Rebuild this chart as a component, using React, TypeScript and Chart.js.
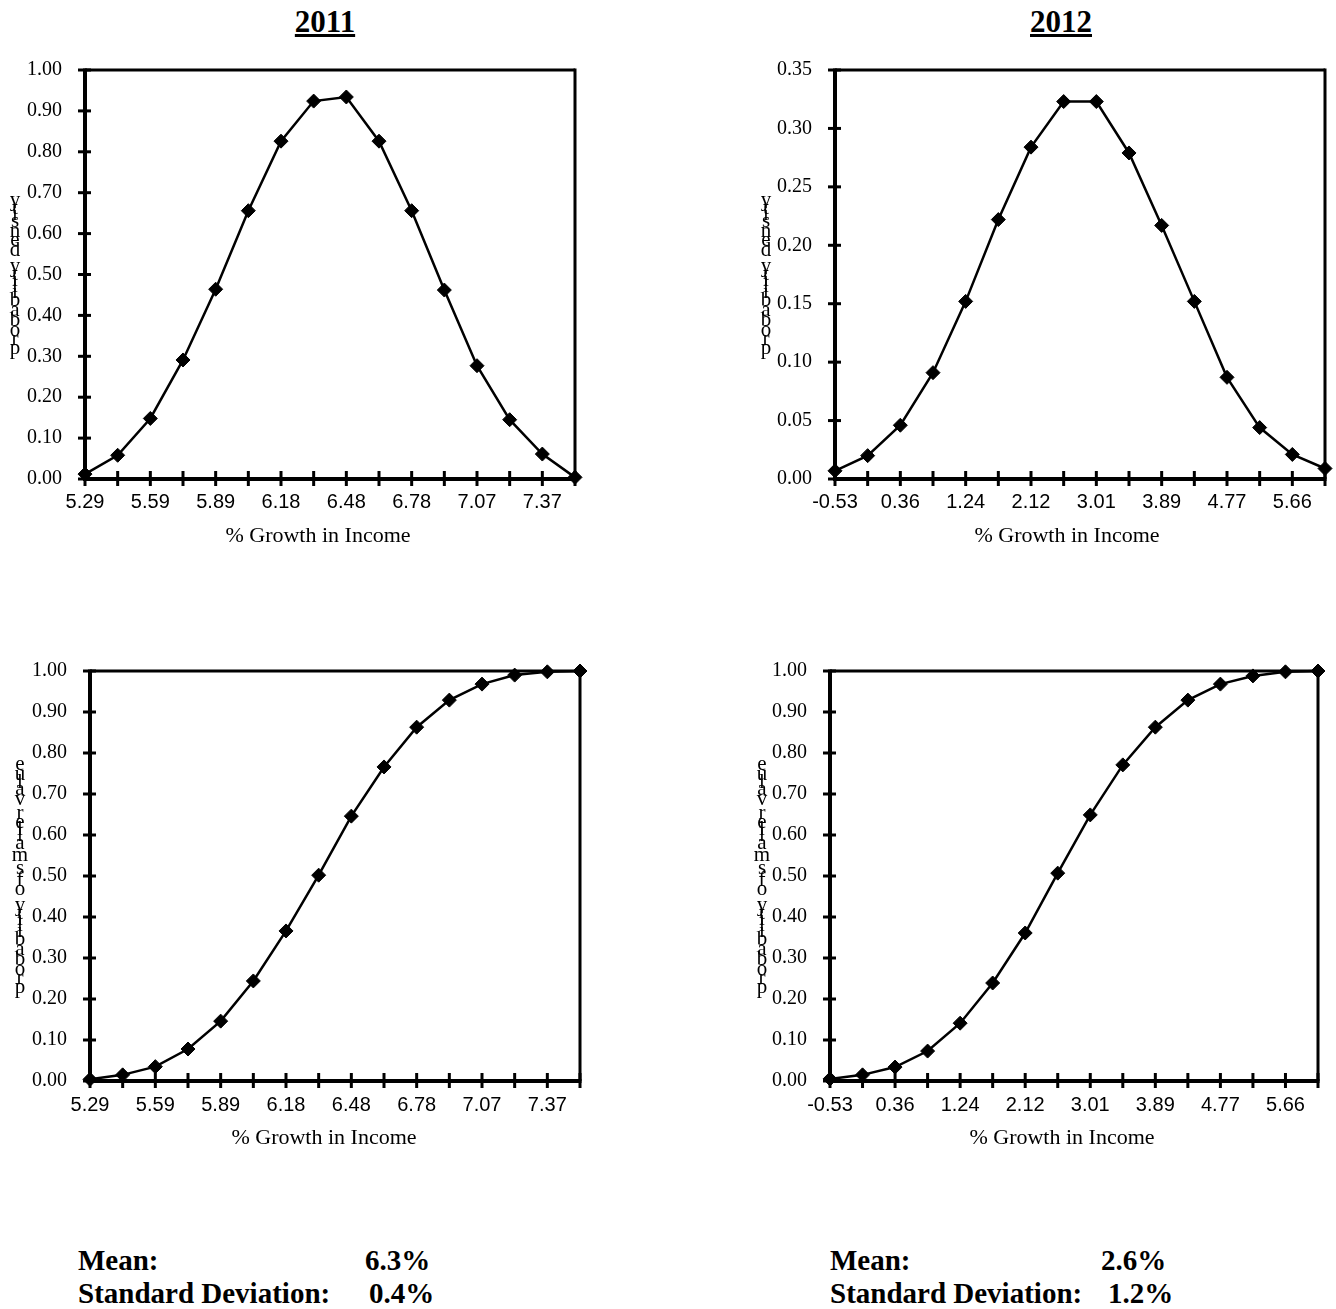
import React, { useEffect, useRef } from 'react';
import { Chart, registerables } from 'chart.js';

Chart.register(...registerables);

// ---- data ----
const growth2011 = ['5.29', '5.44', '5.59', '5.74', '5.89', '6.03', '6.18', '6.33', '6.48', '6.63', '6.78', '6.92', '7.07', '7.22', '7.37', '7.52'];
const growth2012 = ['-0.53', '-0.09', '0.36', '0.80', '1.24', '1.68', '2.12', '2.57', '3.01', '3.45', '3.89', '4.33', '4.77', '5.22', '5.66', '6.10'];

const density2011 = [0.012, 0.058, 0.148, 0.291, 0.464, 0.656, 0.826, 0.924, 0.934, 0.826, 0.656, 0.462, 0.277, 0.145, 0.061, 0.004];
const density2012 = [0.007, 0.020, 0.046, 0.091, 0.152, 0.222, 0.284, 0.323, 0.323, 0.279, 0.217, 0.152, 0.087, 0.044, 0.021, 0.009];
const cumulative2011 = [0.004, 0.015, 0.035, 0.078, 0.146, 0.244, 0.366, 0.502, 0.646, 0.766, 0.863, 0.929, 0.968, 0.990, 0.998, 1.0];
const cumulative2012 = [0.005, 0.015, 0.034, 0.073, 0.141, 0.239, 0.361, 0.507, 0.649, 0.771, 0.863, 0.929, 0.968, 0.988, 0.998, 1.0];

const yearTitles = ['2011', '2012'];
const meanValues = ['6.3%', '2.6%'];
const sdValues = ['0.4%', '1.2%'];
const densityTitle = 'probability density';
const cumulativeTitle = 'probability of smaller value';
const xTitle = '% Growth in Income';

type Box = { left: number; top: number; width: number; height: number };
type Area = { l: number; t: number; r: number; b: number };

interface PanelProps {
  box: Box;
  plot: Area;
  labels: string[];
  values: number[];
  yMax: number;
  yStep: number;
  yTitle: string;
  yTitleX: number; // page coordinate
  xTitleX: number; // page coordinate (center)
  xTitleY: number; // page coordinate (center)
  xLabelY: number; // page coordinate (center)
}

function Panel(p: PanelProps) {
  const ref = useRef<HTMLCanvasElement>(null);
  useEffect(() => {
    if (!ref.current) return;
    const { box, plot } = p;
    const tickLH = 20 * 1.2;
    const framePlugin = {
      id: 'frame',
      beforeDatasetsDraw(chart: any) {
        const { ctx, chartArea: a, scales } = chart;
        ctx.save();
        ctx.strokeStyle = '#000';
        ctx.lineCap = 'butt';
        const line = (x1: number, y1: number, x2: number, y2: number) => {
          ctx.beginPath();
          ctx.moveTo(x1, y1);
          ctx.lineTo(x2, y2);
          ctx.stroke();
        };
        ctx.lineWidth = 3;
        const xs = scales.x;
        for (let i = 0; i < xs.ticks.length; i++) {
          const px = xs.getPixelForTick(i);
          line(px, a.bottom - 8, px, a.bottom + 7);
        }
        const ys = scales.y;
        for (let i = 0; i < ys.ticks.length; i++) {
          const py = ys.getPixelForTick(i);
          line(a.left - 7, py, a.left + 6, py);
        }
        ctx.lineWidth = 3;
        line(a.left, a.top, a.right, a.top);
        line(a.right, a.top - 1.5, a.right, a.bottom);
        ctx.lineWidth = 4;
        line(a.left, a.top - 1.5, a.left, a.bottom + 2);
        line(a.left - 2, a.bottom, a.right + 1.5, a.bottom);

        ctx.fillStyle = '#000';
        // x-axis title
        ctx.font = '22px "Liberation Serif"';
        ctx.textAlign = 'center';
        ctx.textBaseline = 'middle';
        ctx.fillText(xTitle, p.xTitleX - box.left, p.xTitleY - box.top);

        // stacked (upright letters) y-axis title
        ctx.font = '21px "Liberation Serif"';
        const total = ctx.measureText(p.yTitle).width;
        let y = (a.top + a.bottom) / 2 + total / 2;
        const cx = p.yTitleX - box.left;
        for (const ch of p.yTitle) {
          const w = ctx.measureText(ch).width;
          if (ch !== ' ') ctx.fillText(ch, cx, y - w / 2);
          y -= w;
        }
        ctx.restore();
      },
    };

    const chart = new Chart(ref.current, {
      type: 'line',
      data: {
        labels: p.labels,
        datasets: [
          {
            data: p.values,
            borderColor: '#000',
            borderWidth: 2.5,
            pointStyle: 'rectRot',
            pointRadius: 7,
            pointBackgroundColor: '#000',
            pointBorderColor: '#000',
            pointBorderWidth: 1,
            tension: 0,
            clip: false as any,
          },
        ],
      },
      options: {
        animation: false,
        responsive: false,
        events: [],
        layout: {
          autoPadding: false,
          padding: { top: plot.t - box.top, right: box.left + box.width - plot.r, left: 0, bottom: 0 },
        },
        plugins: { legend: { display: false }, tooltip: { enabled: false } },
        scales: {
          x: {
            type: 'category',
            offset: false,
            grid: { display: false, drawTicks: false },
            border: { display: false },
            ticks: {
              autoSkip: false,
              maxRotation: 0,
              minRotation: 0,
              padding: p.xLabelY - plot.b - tickLH / 2,
              color: '#000',
              font: { family: '"Liberation Sans"', size: 20 },
              callback: (_v: any, i: number) => (i % 2 === 0 ? p.labels[i] : ''),
            },
            afterFit: (s: any) => {
              s.height = box.top + box.height - plot.b;
            },
          },
          y: {
            min: 0,
            max: p.yMax,
            grid: { display: false, drawTicks: false },
            border: { display: false },
            ticks: {
              stepSize: p.yStep,
              padding: 23,
              color: '#000',
              font: { family: '"Liberation Serif"', size: 20 },
              callback: (v: any) => Number(v).toFixed(2),
            },
            afterFit: (s: any) => {
              s.width = plot.l - box.left;
            },
          },
        },
      },
      plugins: [framePlugin],
    });
    return () => chart.destroy();
  }, []);
  return (
    <canvas
      ref={ref}
      width={p.box.width}
      height={p.box.height}
      style={{ position: 'absolute', left: p.box.left, top: p.box.top, width: p.box.width, height: p.box.height }}
    />
  );
}

const textStyle: React.CSSProperties = {
  position: 'absolute',
  fontFamily: '"Liberation Serif", serif',
  fontWeight: 'bold',
  fontSize: 29,
  lineHeight: '33px',
  color: '#000',
  whiteSpace: 'pre',
};

export default function App() {
  return (
    <div style={{ position: 'absolute', left: 0, top: 0, width: 1336, height: 1309, background: '#fff', overflow: 'hidden' }}>
      <div style={{ ...textStyle, left: 225, top: 3, width: 200, textAlign: 'center', fontSize: 31, lineHeight: '38px', textDecoration: 'underline' }}>
        {yearTitles[0]}
      </div>
      <div style={{ ...textStyle, left: 961, top: 3, width: 200, textAlign: 'center', fontSize: 31, lineHeight: '38px', textDecoration: 'underline' }}>
        {yearTitles[1]}
      </div>

      <Panel
        box={{ left: 0, top: 20, width: 600, height: 540 }}
        plot={{ l: 85, t: 70, r: 575, b: 479 }}
        labels={growth2011}
        values={density2011}
        yMax={1}
        yStep={0.1}
        yTitle={densityTitle}
        yTitleX={15}
        xTitleX={318}
        xTitleY={536}
        xLabelY={502}
      />
      <Panel
        box={{ left: 736, top: 20, width: 600, height: 540 }}
        plot={{ l: 835, t: 70, r: 1325, b: 479 }}
        labels={growth2012}
        values={density2012}
        yMax={0.35}
        yStep={0.05}
        yTitle={densityTitle}
        yTitleX={766}
        xTitleX={1067}
        xTitleY={536}
        xLabelY={502}
      />
      <Panel
        box={{ left: 0, top: 620, width: 610, height: 540 }}
        plot={{ l: 90, t: 671, r: 580, b: 1081 }}
        labels={growth2011}
        values={cumulative2011}
        yMax={1}
        yStep={0.1}
        yTitle={cumulativeTitle}
        yTitleX={20}
        xTitleX={324}
        xTitleY={1138}
        xLabelY={1105}
      />
      <Panel
        box={{ left: 736, top: 620, width: 600, height: 540 }}
        plot={{ l: 830, t: 671, r: 1318, b: 1081 }}
        labels={growth2012}
        values={cumulative2012}
        yMax={1}
        yStep={0.1}
        yTitle={cumulativeTitle}
        yTitleX={762}
        xTitleX={1062}
        xTitleY={1138}
        xLabelY={1105}
      />

      <div style={{ ...textStyle, left: 78, top: 1244 }}>Mean:</div>
      <div style={{ ...textStyle, left: 365, top: 1244 }}>{meanValues[0]}</div>
      <div style={{ ...textStyle, left: 78, top: 1277 }}>Standard Deviation:</div>
      <div style={{ ...textStyle, left: 369, top: 1277 }}>{sdValues[0]}</div>

      <div style={{ ...textStyle, left: 830, top: 1244 }}>Mean:</div>
      <div style={{ ...textStyle, left: 1101, top: 1244 }}>{meanValues[1]}</div>
      <div style={{ ...textStyle, left: 830, top: 1277 }}>Standard Deviation:</div>
      <div style={{ ...textStyle, left: 1108, top: 1277 }}>{sdValues[1]}</div>
    </div>
  );
}
